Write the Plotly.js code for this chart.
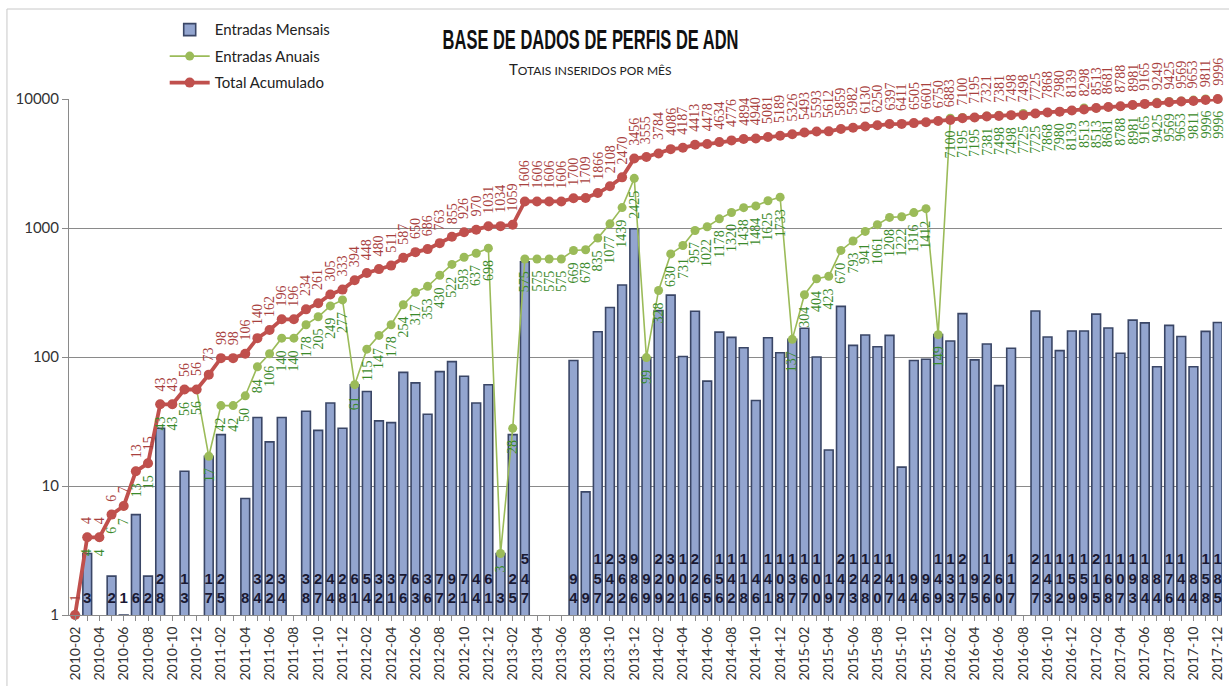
<!DOCTYPE html>
<html><head><meta charset="utf-8">
<script src="https://cdn.plot.ly/plotly-3.0.1.min.js"></script>
<style>html,body{margin:0;padding:0;background:#fff}</style>
</head><body><div id="chart" style="width:1229px;height:686px"></div>
<script>
const months = ["2010-02","2010-03","2010-04","2010-05","2010-06","2010-07","2010-08","2010-09","2010-10","2010-11","2010-12",
"2011-01","2011-02","2011-03","2011-04","2011-05","2011-06","2011-07","2011-08","2011-09","2011-10","2011-11","2011-12",
"2012-01","2012-02","2012-03","2012-04","2012-05","2012-06","2012-07","2012-08","2012-09","2012-10","2012-11","2012-12",
"2013-01","2013-02","2013-03","2013-04","2013-05","2013-06","2013-07","2013-08","2013-09","2013-10","2013-11","2013-12",
"2014-01","2014-02","2014-03","2014-04","2014-05","2014-06","2014-07","2014-08","2014-09","2014-10","2014-11","2014-12",
"2015-01","2015-02","2015-03","2015-04","2015-05","2015-06","2015-07","2015-08","2015-09","2015-10","2015-11","2015-12",
"2016-01","2016-02","2016-03","2016-04","2016-05","2016-06","2016-07","2016-08","2016-09","2016-10","2016-11","2016-12",
"2017-01","2017-02","2017-03","2017-04","2017-05","2017-06","2017-07","2017-08","2017-09","2017-10","2017-11","2017-12"];

const entradasMensais = [1,3,0,2,1,6,2,28,0,13,0,
17,25,0,8,34,22,34,0,38,27,44,28,
61,54,32,31,76,63,36,77,92,71,44,61,
3,25,547,0,0,0,94,9,157,242,362,986,
99,229,302,101,226,65,156,142,118,46,141,108,
137,167,100,19,247,123,148,120,147,14,94,96,
149,133,217,95,126,60,117,0,227,143,112,159,
159,215,168,107,193,184,84,176,144,84,158,185];

const entradasAnuais = [1,4,4,6,7,13,15,43,43,56,56,
17,42,42,50,84,106,140,140,178,205,249,277,
61,115,147,178,254,317,353,430,522,593,637,698,
3,28,575,575,575,575,669,678,835,1077,1439,2425,
99,328,630,731,957,1022,1178,1320,1438,1484,1625,1733,
137,304,404,423,670,793,941,1061,1208,1222,1316,1412,
149,7100,7195,7195,7381,7498,7498,7725,7725,7868,7980,8139,
8513,8513,8681,8788,8981,9165,9425,9569,9653,9811,9996,9996];

const totalAcumulado = [1,4,4,6,7,13,15,43,43,56,56,
73,98,98,106,140,162,196,196,234,261,305,333,
394,448,480,511,587,650,686,763,855,926,970,1031,
1034,1059,1606,1606,1606,1606,1700,1709,1866,2108,2470,3456,
3555,3784,4086,4187,4413,4478,4634,4776,4894,4940,5081,5189,
5326,5493,5593,5612,5859,5982,6130,6250,6397,6411,6505,6601,
6750,6883,7100,7195,7321,7381,7498,7498,7725,7868,7980,8139,
8298,8513,8681,8788,8981,9165,9249,9425,9569,9653,9811,9996];

const yTickVals = [1,10,100,1000,10000];
const yTickText = ["1","10","100","1000","10000"];

const RED = '#c0504d', GREEN = '#9bbb59';

// bar labels: digits stacked vertically
const barLabels = entradasMensais.map((v,i) => (v > 0 && i > 0) ? String(v).split('').join('<br>') : '');

const traces = [
  {type:'bar', name:'Entradas Mensais', x:months, y:entradasMensais, width:0.72,
   marker:{color:'#93a5cf', line:{color:'#3a4666', width:1.6}}, legendgroup:'a', hoverinfo:'x+y'},
  {type:'scatter', mode:'text', x:months, y:months.map(()=>1.15), text:barLabels, textposition:'top center',
   textfont:{family:'Liberation Sans, Arial', size:15, color:'#1a1a33', weight:'bold'},
   showlegend:false, hoverinfo:'skip', cliponaxis:false},
  {type:'scatter', mode:'lines+markers', name:'Entradas Anuais', x:months, y:entradasAnuais,
   line:{color:GREEN, width:1.6}, marker:{color:GREEN, size:9}, legendgroup:'b', cliponaxis:false},
  {type:'scatter', mode:'lines+markers', name:'Total Acumulado', x:months, y:totalAcumulado,
   line:{color:RED, width:3.8}, marker:{color:RED, size:10}, legendgroup:'c', cliponaxis:false}
];

const annotations = [];
totalAcumulado.forEach((v,i) => {
  annotations.push({x:months[i], y:Math.log10(v), xref:'x', yref:'y', text:String(v), showarrow:false,
    textangle:-90, xanchor:'center', yanchor:'bottom', yshift:11,
    font:{family:'Liberation Serif, serif', size:14, color:'#a8403d'}});
});
entradasAnuais.forEach((v,i) => {
  if (v <= 1) return;
  annotations.push({x:months[i], y:Math.log10(v), xref:'x', yref:'y', text:String(v), showarrow:false,
    textangle:-90, xanchor:'center', yanchor:'top', yshift:-10,
    font:{family:'Liberation Serif, serif', size:14, color:'#3b8a2b'}});
});
annotations.push({xref:'paper', yref:'paper', x:0.452, y:1.114, xanchor:'center', yanchor:'middle', showarrow:false,
  text:'<b>BASE DE DADOS DE PERFIS DE ADN</b>',
  font:{family:'Liberation Sans, Arial', size:27, color:'#111'}});
annotations.push({xref:'paper', yref:'paper', x:0.452, y:1.058, xanchor:'center', yanchor:'middle', showarrow:false,
  text:'T<span style="font-size:12px">OTAIS INSERIDOS POR MÊS</span>',
  font:{family:'Lato, Open Sans, sans-serif', size:15, color:'#222'}});

const layout = {
  width:1229, height:686, autosize:false,
  margin:{l:69, r:7, t:99, b:71},
  paper_bgcolor:'#fff', plot_bgcolor:'#fff',
  showlegend:true,
  legend:{x:0.083, y:1.166, xanchor:'left', yanchor:'top', bgcolor:'rgba(0,0,0,0)',
    font:{family:'Lato, Open Sans, sans-serif', size:15, color:'#222'}, tracegroupgap:4, itemwidth:40},
  xaxis:{type:'category', range:[-0.5, 94.35], tickmode:'array', tickvals:months,
    ticktext:months.map((m,i)=> i%2===0 ? m : ''), tickangle:-90,
    ticks:'outside', ticklen:5, tickcolor:'#8a8a8a', showline:true, linecolor:'#8a8a8a', linewidth:1,
    showgrid:false, tickfont:{family:'Lato, Open Sans, sans-serif', size:14, color:'#333'}},
  yaxis:{type:'log', range:[0,4], tickmode:'array', tickvals:yTickVals, ticktext:yTickText,
    showgrid:true, gridcolor:'#8a8a8a', gridwidth:1, showline:true, linecolor:'#8a8a8a',
    ticks:'outside', ticklen:6, tickcolor:'#8a8a8a', zeroline:false,
    tickfont:{family:'Lato, Open Sans, sans-serif', size:15, color:'#333'}},
  annotations:annotations,
  shapes:[
    {type:'line', xref:'paper', yref:'paper', x0:-0.0538, x1:-0.0538, y0:-0.14, y1:1.1744, line:{color:'#c8c8c8', width:1}},
    {type:'line', xref:'paper', yref:'paper', x0:-0.0538, x1:1.01, y0:1.1744, y1:1.1744, line:{color:'#c8c8c8', width:1}}
  ]
};

Plotly.newPlot('chart', traces, layout, {displayModeBar:false, staticPlot:true}).then(gd => {
  // condense the title text horizontally (narrow bold title font)
  gd.querySelectorAll('text.annotation-text').forEach(t => {
    if ((t.textContent || '').indexOf('BASE DE DADOS') === 0) {
      t.style.transformBox = 'fill-box';
      t.style.transformOrigin = 'center';
      t.style.transform = 'scaleX(0.61)';
    }
  });
});
</script>
</body></html>
